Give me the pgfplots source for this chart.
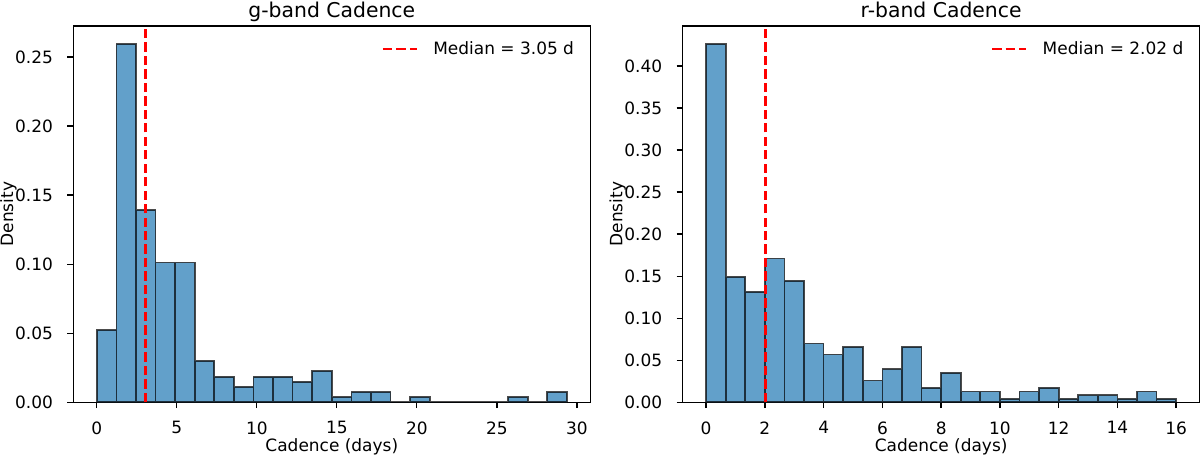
\documentclass[border=0pt]{standalone}
\usepackage{pgfplots}
\pgfplotsset{compat=1.18}
\usepackage{fontspec}
\setmainfont{DejaVu Sans}
\definecolor{barblue}{RGB}{98,160,202}
\definecolor{medred}{RGB}{255,0,0}

\pgfplotstableread{
x y
0.0000 0.0522
1.2240 0.2594
2.4479 0.1391
3.6719 0.1012
4.8958 0.1012
6.1198 0.0300
7.3438 0.0184
8.5677 0.0111
9.7917 0.0184
11.0156 0.0184
12.2396 0.0147
13.4635 0.0225
14.6875 0.0037
15.9115 0.0074
17.1354 0.0074
18.3594 0.0000
19.5833 0.0037
20.8073 0.0000
22.0313 0.0000
23.2552 0.0000
24.4792 0.0000
25.7031 0.0037
26.9271 0.0000
28.1510 0.0074
29.3750 0.0000
}\gdata

\pgfplotstableread{
x y
0.0000 0.4262
0.6667 0.1492
1.3333 0.1313
2.0000 0.1710
2.6667 0.1444
3.3333 0.0698
4.0000 0.0567
4.6667 0.0655
5.3333 0.0258
6.0000 0.0393
6.6667 0.0655
7.3333 0.0171
8.0000 0.0349
8.6667 0.0127
9.3333 0.0127
10.0000 0.0040
10.6667 0.0127
11.3333 0.0171
12.0000 0.0040
12.6667 0.0083
13.3333 0.0083
14.0000 0.0040
14.6667 0.0127
15.3333 0.0040
16.0000 0.0000
}\rdata

\pgfplotsset{
  cadstyle/.style={
    scale only axis, width=304.7pt, height=221.7pt,
    axis line style={line width=0.8pt},
    tick align=outside, tick pos=left, major tick length=3.5pt,
    every tick/.style={black, line width=0.8pt},
    ymin=0,
    /pgf/number format/assume math mode=true,
    tick label style={font=\fontsize{10}{12}\selectfont},
    xticklabel style={yshift=-4.3pt},
    yticklabel style={xshift=-5pt, /pgf/number format/.cd, fixed, fixed zerofill, precision=2},
    label style={font=\fontsize{10}{12}\selectfont},
    every axis title shift=0pt,
    title style={font=\fontsize{12}{14}\selectfont, at={(axis description cs:0.5,1.023)}, anchor=base, inner sep=0pt},
    xlabel style={at={(axis description cs:0.5,-0.1305)}, anchor=base, inner sep=0pt},
    ylabel style={at={(axis description cs:-0.109,0.5)}, anchor=south, inner sep=0pt},
    legend style={at={(axis description cs:0.9691,0.9387)}, anchor=east, draw=none, fill=none,
      inner sep=0pt, font=\fontsize{10}{12}\selectfont, column sep=9pt, nodes={inner sep=0pt}},
    legend image code/.code={\draw[#1] (0pt,0pt) -- (20pt,0pt);},
    xlabel={Cadence (days)}, ylabel={Density},
  },
  histbar/.style={ybar interval, fill=barblue, draw=black, draw opacity=0.7, line width=1pt, forget plot},
  medline/.style={medred, line width=1.5pt, dash pattern=on 5.55pt off 2.4pt},
}

\begin{document}
\begin{tikzpicture}
\path[use as bounding box] (-43.2pt,-31.06pt) rectangle (664.0pt,237.08pt);
\begin{axis}[cadstyle, at={(0pt,0pt)}, anchor=south west,
  title={g-band Cadence},
  xmin=-1.469, xmax=30.844, ymax=0.2724,
  xtick={0,5,10,15,20,25,30},
  ytick={0,0.05,0.10,0.15,0.20,0.25}]
  \addplot[histbar] table[x=x,y=y] {\gdata};
  \addplot[medline] coordinates {(3.05,0) (3.05,0.2724)};
  \addlegendentry{Median = 3.05 d}
\end{axis}
\begin{axis}[cadstyle, at={(359.1pt,0pt)}, anchor=south west,
  title={r-band Cadence},
  xmin=-0.8, xmax=16.8, ymax=0.4475,
  xtick={0,2,4,6,8,10,12,14,16},
  ytick={0,0.05,0.10,0.15,0.20,0.25,0.30,0.35,0.40}]
  \addplot[histbar] table[x=x,y=y] {\rdata};
  \addplot[medline] coordinates {(2.02,0) (2.02,0.4475)};
  \addlegendentry{Median = 2.02 d}
\end{axis}
\end{tikzpicture}
\end{document}
